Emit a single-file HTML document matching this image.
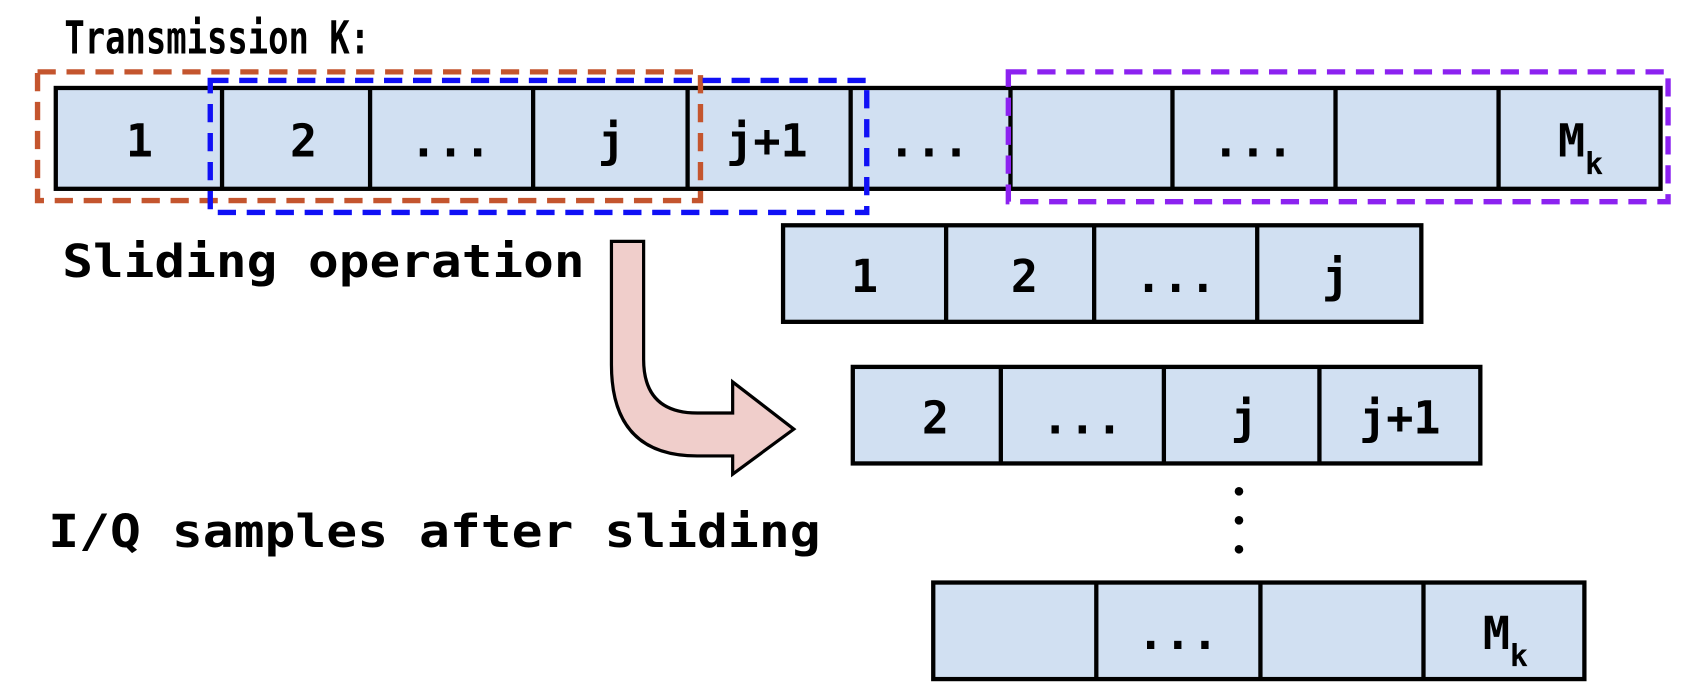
<!DOCTYPE html>
<html><head><meta charset="utf-8"><style>
html,body{margin:0;padding:0;background:#fff;}
svg{display:block}
text{font-family:"DejaVu Sans Mono","Liberation Mono",monospace;font-weight:bold;fill:#000}
</style></head><body>
<svg width="1682" height="700" viewBox="0 0 1568 652.5" preserveAspectRatio="none" xmlns="http://www.w3.org/2000/svg">
<text x="60" y="50" font-size="42" textLength="285" lengthAdjust="spacingAndGlyphs">Transmission K:</text>

<g fill="#d1e0f2" stroke="#000" stroke-width="4">
<rect x="52" y="82" width="1496" height="94"/>
<line x1="207" y1="82" x2="207" y2="176"/><line x1="345" y1="82" x2="345" y2="176"/>
<line x1="497" y1="82" x2="497" y2="176"/><line x1="641" y1="82" x2="641" y2="176"/>
<line x1="793" y1="82" x2="793" y2="176"/><line x1="942" y1="82" x2="942" y2="176"/>
<line x1="1093" y1="82" x2="1093" y2="176"/><line x1="1245" y1="82" x2="1245" y2="176"/>
<line x1="1397" y1="82" x2="1397" y2="176"/>
</g>
<g font-size="42" text-anchor="middle">
<text x="130" y="146">1</text><text x="283" y="146">2</text><text x="420" y="146">...</text>
<text x="570" y="146">j</text><text x="715" y="146">j+1</text><text x="866" y="146">...</text>
<text x="1168" y="146">...</text><text x="1465" y="146">M</text><text x="1486" y="162" font-size="28">k</text>
</g>

<rect x="35" y="67" width="618" height="120" fill="none" stroke="#c4552e" stroke-width="5" stroke-dasharray="17,10"/>
<rect x="196" y="75" width="612" height="123" fill="none" stroke="#1010f5" stroke-width="5" stroke-dasharray="17,10"/>
<rect x="940" y="67" width="615" height="121" fill="none" stroke="#8c22f0" stroke-width="5" stroke-dasharray="17,10"/>

<text x="58" y="258" font-size="42" textLength="487" lengthAdjust="spacingAndGlyphs">Sliding operation</text>

<path d="M570,225 L600,225 L600,335 Q600,385 650,385 L683,385 L683,356 L740,400 L683,442 L683,425 L650,425 Q570,425 570,340 Z" fill="#f0cecb" stroke="#000" stroke-width="3"/>

<g fill="#d1e0f2" stroke="#000" stroke-width="4">
<rect x="730" y="210" width="595" height="90"/>
<line x1="882" y1="210" x2="882" y2="300"/><line x1="1020" y1="210" x2="1020" y2="300"/><line x1="1172" y1="210" x2="1172" y2="300"/>
</g>
<g font-size="42" text-anchor="middle">
<text x="806" y="272">1</text><text x="955" y="272">2</text><text x="1096" y="272">...</text><text x="1245" y="272">j</text>
</g>

<g fill="#d1e0f2" stroke="#000" stroke-width="4">
<rect x="795" y="342" width="585" height="90"/>
<line x1="933" y1="342" x2="933" y2="432"/><line x1="1085" y1="342" x2="1085" y2="432"/><line x1="1230" y1="342" x2="1230" y2="432"/>
</g>
<g font-size="42" text-anchor="middle">
<text x="872" y="404">2</text><text x="1009" y="404">...</text><text x="1160" y="404">j</text><text x="1305" y="404">j+1</text>
</g>

<g fill="#000">
<circle cx="1155" cy="458" r="4"/><circle cx="1155" cy="485" r="4"/><circle cx="1155" cy="512" r="4"/>
</g>

<text x="45" y="510" font-size="42" textLength="720" lengthAdjust="spacingAndGlyphs">I/Q samples after sliding</text>

<g fill="#d1e0f2" stroke="#000" stroke-width="4">
<rect x="870" y="543" width="607" height="90"/>
<line x1="1022" y1="543" x2="1022" y2="633"/><line x1="1175" y1="543" x2="1175" y2="633"/><line x1="1327" y1="543" x2="1327" y2="633"/>
</g>
<g font-size="42" text-anchor="middle">
<text x="1098" y="605">...</text><text x="1395" y="605">M</text><text x="1416" y="621" font-size="28">k</text>
</g>
</svg>
</body></html>
